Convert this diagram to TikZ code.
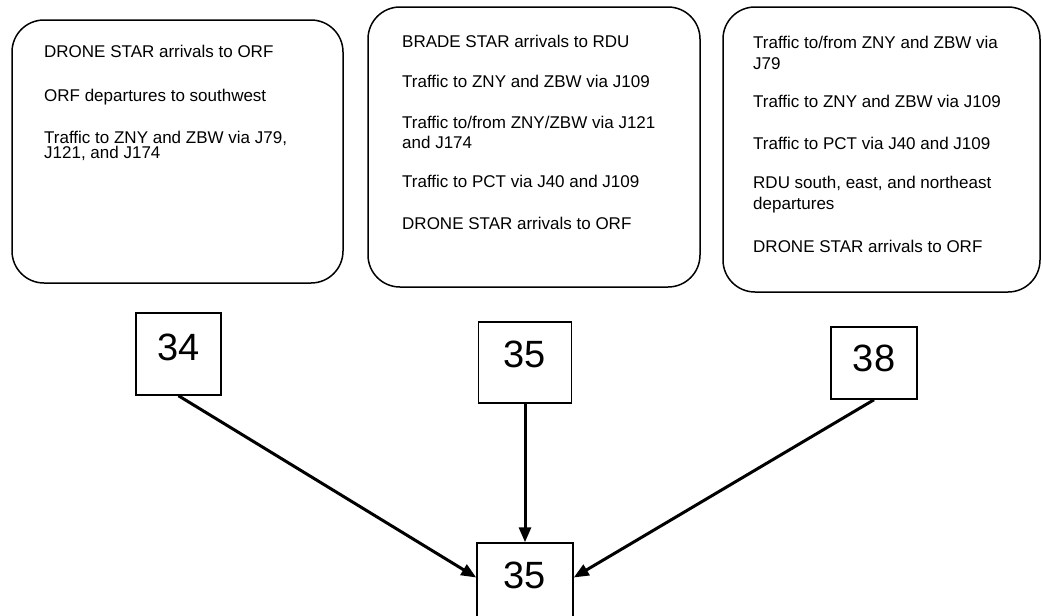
\documentclass[tikz,border=0pt]{standalone}
\usepackage{fontspec}
\setmainfont{Liberation Sans}
\usetikzlibrary{arrows.meta}
\begin{document}
\begin{tikzpicture}[x=1pt,y=-1pt,
  roundbox/.style={draw,line width=1.5pt,rounded corners=32pt,inner sep=0pt},
  txt/.style={anchor=base west,inner sep=0pt,font=\fontsize{17}{20}\selectfont},
  numbox/.style={draw,line width=1.5pt,inner sep=0pt,font=\fontsize{38}{40}\selectfont,text height=27pt,text depth=#1},
  arr/.style={line width=3pt,-{Triangle[length=15pt,width=12pt]}}]
\useasboundingbox (0,0) rectangle (1042,616);
\clip (0,0) rectangle (1042,616);
\fill[white] (0,0) rectangle (1042,616);

% rounded text boxes
\node[roundbox,minimum width=331pt,minimum height=263pt] (L) at (177.5,151.5) {};
\node[roundbox,minimum width=332pt,minimum height=280pt] (M) at (534,147) {};
\node[roundbox,minimum width=317pt,minimum height=285pt] (R) at (881.5,149.5) {};

% left box text
\node[txt] (l1) at (44,57) {DRONE STAR arrivals to ORF};
\node[txt] (l2) at (44,101) {ORF departures to southwest};
\node[txt] (l3) at (44,143) {Traffic to ZNY and ZBW via J79,};
\node[txt] (l4) at (44,158) {J121, and J174};

% middle box text
\node[txt] (m1) at (402,47) {BRADE STAR arrivals to RDU};
\node[txt] (m2) at (402,87) {Traffic to ZNY and ZBW via J109};
\node[txt] (m3) at (402,128) {Traffic to/from ZNY/ZBW via J121};
\node[txt] (m4) at (402,148) {and J174};
\node[txt] (m5) at (402,187) {Traffic to PCT via J40 and J109};
\node[txt] (m6) at (402,229) {DRONE STAR arrivals to ORF};

% right box text
\node[txt] (r1) at (753,48) {Traffic to/from ZNY and ZBW via};
\node[txt] (r2) at (753,69) {J79};
\node[txt] (r3) at (753,107) {Traffic to ZNY and ZBW via J109};
\node[txt] (r4) at (753,149) {Traffic to PCT via J40 and J109};
\node[txt] (r5) at (753,188) {RDU south, east, and northeast};
\node[txt] (r6) at (753,209) {departures};
\node[txt] (r7) at (753,252) {DRONE STAR arrivals to ORF};

% number boxes
\node[numbox=14pt,minimum width=85pt,minimum height=82pt] (b34) at (178.5,354) {34};
\node[numbox=17.6pt,minimum width=93pt,minimum height=81pt] (b35) at (525,362.5) {35};
\node[numbox=11pt,minimum width=86pt,minimum height=72pt] (b38) at (874,363) {38};
\node[numbox=17pt,minimum width=96pt,minimum height=81pt] (bot) at (525,583.5) {35};

% connectors
\draw[arr] (b34.south) -- ([yshift=6pt]bot.west);
\draw[arr] (b35.south) -- (bot.north);
\draw[arr] (b38.south) -- ([yshift=6pt]bot.east);
\end{tikzpicture}
\end{document}
